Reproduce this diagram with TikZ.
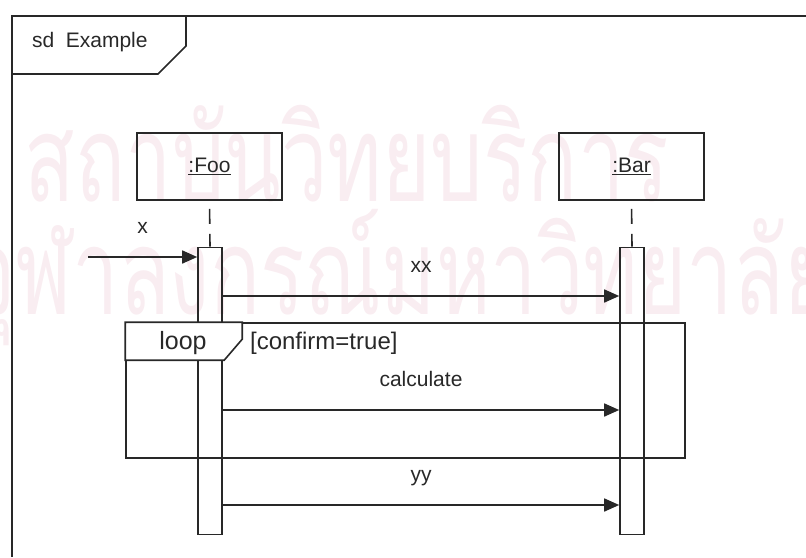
\documentclass[tikz,border=0pt]{standalone}
\usepackage{fontspec}
\setmainfont{Liberation Sans}
\newfontfamily\thaifont[Script=Thai]{Loma}
\usetikzlibrary{arrows.meta}
\definecolor{ink}{RGB}{40,40,40}
\definecolor{wmark}{RGB}{249,237,241}

\begin{document}
\begin{tikzpicture}[x=1pt, y=-1pt, line width=1.6pt, color=ink,
  font=\fontsize{21}{25}\selectfont,
  obj/.style={draw, minimum width=145pt, minimum height=67pt, inner sep=0pt},
  actbar/.style={draw, minimum width=24pt, minimum height=287pt, inner sep=0pt},
  lifeline/.style={dash pattern=on 15pt off 10pt, dash phase=17pt},
  msg/.style={-{Triangle[length=15pt,width=13pt]}},
  msglabel/.style={midway, anchor=base, yshift=24pt},
  wmtext/.style={text=wmark, xscale=0.69, font=\thaifont\fontsize{120}{125}\selectfont}]
  \useasboundingbox (0,0) rectangle (806,557);
  % faint watermark behind the diagram
  \begin{scope}
    \clip (0,0) rectangle (806,557);
    \node[wmtext] (wmtop) at (347,154) {สถาบันวิทยบริการ};
    \node[wmtext] (wmbot) at (400,278) {จุฬาลงกรณ์มหาวิทยาลัย};
  \end{scope}
  % sd frame
  \draw (12,557) -- (12,16) -- (806,16);
  \draw (12,74) -- (158,74) -- (186,46) -- (186,16);
  \node[anchor=west] (sdname) at (28,42) {sd\hspace{0.55em}Example};
  % lifelines
  \node[obj] (foo) at (209.5,166.5) {\underline{:Foo}};
  \node[obj] (bar) at (631.5,166.5) {\underline{:Bar}};
  \node[actbar] (fooact) at (210,391) {};
  \node[actbar] (baract) at (632,391) {};
  \draw[lifeline] (foo.south) -- (fooact.north);
  \draw[lifeline] (bar.south) -- (baract.north);
  % loop fragment
  \node[draw, minimum width=559pt, minimum height=135pt, inner sep=0pt] (loop) at (405.5,390.5) {};
  \draw[fill=white] (loop.north west) -- ++(117,0) -- ++(0,17) -- ++(-18,21) -- ++(-99,0) -- cycle;
  \node[font=\fontsize{25}{28}\selectfont] (looplbl) at (183,343) {loop};
  \node[anchor=west, font=\fontsize{24}{27}\selectfont] (guard) at (246,343) {[confirm=true]};
  % messages
  \coordinate (xin) at (88,257);
  \coordinate (m1) at (0,296);
  \coordinate (m2) at (0,410);
  \coordinate (m3) at (0,505);
  \draw[msg] (xin) -- (fooact.west |- xin) node[msglabel] (xlbl) {x};
  \draw[msg] (fooact.east |- m1) -- (baract.west |- m1) node[msglabel] (m1lbl) {xx};
  \draw[msg] (fooact.east |- m2) -- (baract.west |- m2) node[msglabel] (m2lbl) {calculate};
  \draw[msg] (fooact.east |- m3) -- (baract.west |- m3) node[msglabel] (m3lbl) {yy};
\end{tikzpicture}
\end{document}
